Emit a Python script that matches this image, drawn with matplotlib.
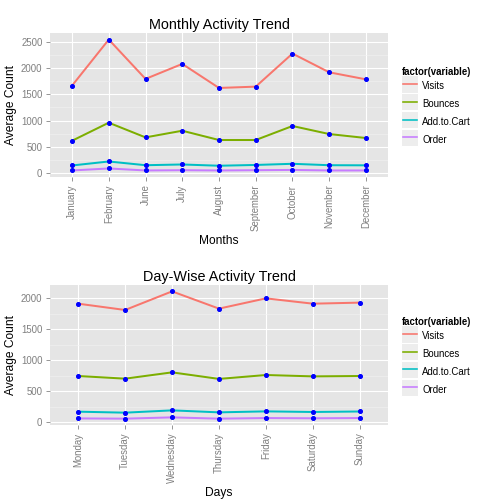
import matplotlib
matplotlib.use('Agg')
import matplotlib.pyplot as plt
from matplotlib.patches import Rectangle
from matplotlib.legend_handler import HandlerLine2D
from matplotlib.lines import Line2D

plt.rcParams['font.family'] = ['Liberation Sans', 'DejaVu Sans']

# data
months = ['January', 'February', 'June', 'July', 'August', 'September',
          'October', 'November', 'December']
m_visits = [1666, 2544, 1794, 2080, 1622, 1647, 2277, 1920, 1786]
m_bounces = [616, 960, 680, 807, 630, 630, 897, 744, 668]
m_cart = [145, 221, 150, 164, 140, 155, 177, 150, 148]
m_order = [50, 88, 50, 55, 50, 55, 60, 50, 50]

days = ['Monday', 'Tuesday', 'Wednesday', 'Thursday', 'Friday', 'Saturday', 'Sunday']
d_visits = [1914, 1812, 2113, 1834, 2000, 1914, 1931]
d_bounces = [744, 701, 803, 697, 760, 738, 744]
d_cart = [167, 151, 188, 156, 172, 162, 170]
d_order = [58, 54, 75, 54, 64, 60, 64]

series_names = ['Visits', 'Bounces', 'Add.to.Cart', 'Order']
colors = ['#F8766D', '#7CAE00', '#00BFC4', '#C77CFF']


class KeyHandler(HandlerLine2D):
    # ggplot style legend key: grey box with line through it
    def create_artists(self, legend, orig_handle, xdescent, ydescent,
                       width, height, fontsize, trans):
        y0 = -ydescent + 2.5  # lift box so label sits in its middle
        rect = Rectangle((-xdescent, y0), width, height,
                         facecolor='#EDEDED', edgecolor='white', lw=1.0,
                         transform=trans)
        y = y0 + height / 2
        ln = Line2D([-xdescent + 1.5, width - xdescent - 1.5], [y, y],
                    color=orig_handle.get_color(), lw=1.6, transform=trans)
        return [rect, ln]


def panel(ax, cats, vals, title, xlabel, yticks, minor):
    x = list(range(len(cats)))
    handles = []
    for v, c, n in zip(vals, colors, series_names):
        h, = ax.plot(x, v, color=c, lw=2, label=n, zorder=3)
        handles.append(h)
    for v in vals:
        ax.plot(x, v, 'o', color='#0000FF', ms=4, zorder=4)
    allv = [a for v in vals for a in v]
    lo, hi = min(allv), max(allv)
    pad = (hi - lo) * 0.05
    ax.set_ylim(lo - pad, hi + pad)
    ax.set_xlim(-0.6, len(cats) - 0.4)
    ax.set_facecolor('#E5E5E5')
    ax.set_yticks(yticks)
    ax.set_yticks(minor, minor=True)
    ax.set_xticks(x)
    ax.set_xticklabels(cats, rotation=90)
    ax.grid(which='major', color='white', lw=1.1, zorder=0)
    ax.grid(which='minor', axis='y', color='#F2F2F2', lw=0.6, zorder=0)
    ax.set_axisbelow(True)
    for s in ax.spines.values():
        s.set_visible(False)
    ax.tick_params(which='major', colors='#7F7F7F', labelsize=9.6, length=4, width=0.8)
    ax.tick_params(which='minor', length=0)
    ax.set_title(title, fontsize=14.4, pad=4)
    ax.set_xlabel(xlabel, fontsize=12)
    ax.set_ylabel('Average Count', fontsize=12)
    leg = ax.legend(handles=handles, title='factor(variable)', loc='center left',
                    bbox_to_anchor=(1.02, 0.48), frameon=False, fontsize=9.6,
                    handlelength=1.75, handleheight=2.4, labelspacing=0.05,
                    handletextpad=0.4, alignment='left', borderpad=0.2,
                    handler_map={Line2D: KeyHandler()})
    leg.get_title().set_fontweight('bold')
    leg.get_title().set_fontsize(9.6)


fig = plt.figure(figsize=(7, 7), dpi=72)
ax1 = fig.add_axes([0.0992, 0.6488, 0.6706, 0.2857])
ax2 = fig.add_axes([0.0992, 0.1567, 0.6706, 0.2778])

panel(ax1, months, [m_visits, m_bounces, m_cart, m_order], 'Monthly Activity Trend',
      'Months', [0, 500, 1000, 1500, 2000, 2500], [250, 750, 1250, 1750, 2250])
panel(ax2, days, [d_visits, d_bounces, d_cart, d_order], 'Day-Wise Activity Trend',
      'Days', [0, 500, 1000, 1500, 2000], [250, 750, 1250, 1750])

fig.savefig('out.png', dpi=72, facecolor='white')
